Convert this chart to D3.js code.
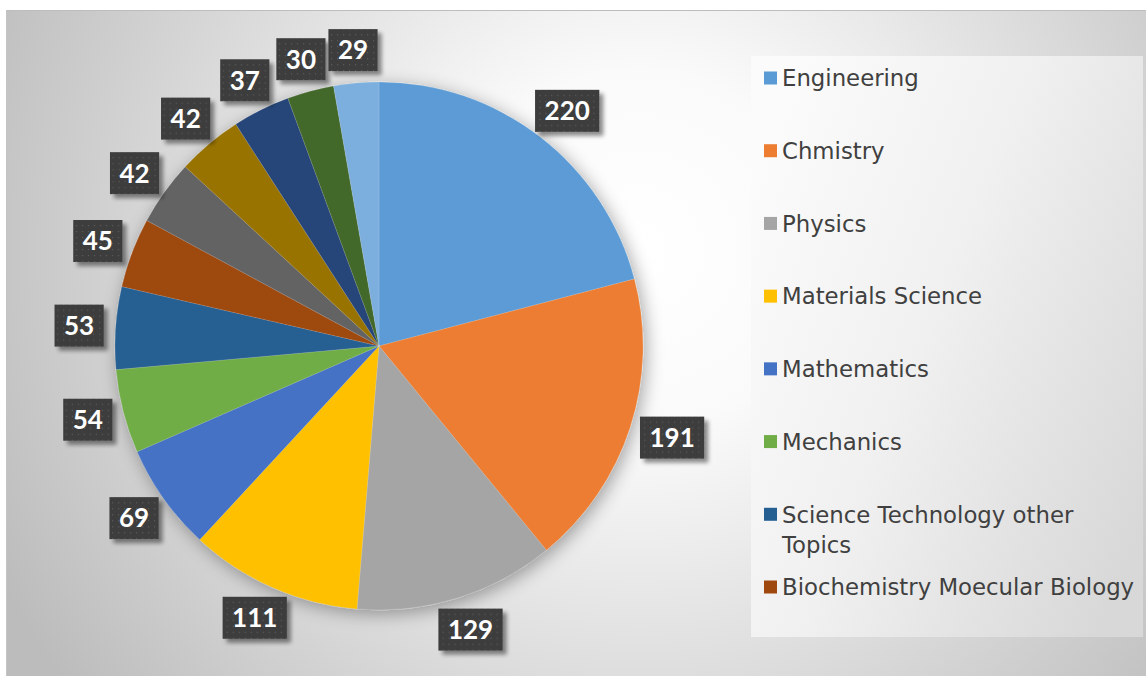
<!DOCTYPE html>
<html><head><meta charset="utf-8">
<script src="https://cdn.jsdelivr.net/npm/d3@7"></script>
<style>html,body{margin:0;padding:0;background:#fff;overflow:hidden}</style>
</head><body>
<svg id="chart" width="1146" height="677"></svg>
<script>
// ---- data ----
const categories = ["Engineering","Chmistry","Physics","Materials Science","Mathematics","Mechanics",
  "Science Technology other Topics","Biochemistry Moecular Biology","Category 9","Category 10","Category 11","Category 12","Category 13"];
const values = [220,191,129,111,69,54,53,45,42,42,37,30,29];
const colors = ["#5B9BD5","#ED7D31","#A5A5A5","#FFC000","#4472C4","#70AD47","#255E91","#9E480E","#636363","#997300","#264478","#43682B","#7CAFDD"];
const legendLines = [["Engineering"],["Chmistry"],["Physics"],["Materials Science"],["Mathematics"],["Mechanics"],
  ["Science Technology other","Topics"],["Biochemistry Moecular Biology"]];

const svg = d3.select("#chart");
const defs = svg.append("defs");
const legendFont = "'Century Gothic', 'DejaVu Sans', sans-serif";
const labelFont = "'Century Gothic', Lato, 'Open Sans', sans-serif";

// backgrounds
const rg = defs.append("radialGradient").attr("id","bg").attr("gradientUnits","userSpaceOnUse")
  .attr("cx",640).attr("cy",250).attr("r",720);
rg.append("stop").attr("offset","0").attr("stop-color","#ffffff");
rg.append("stop").attr("offset","0.25").attr("stop-color","#fafafa");
rg.append("stop").attr("offset","1").attr("stop-color","#bcbcbc");
const lg = defs.append("linearGradient").attr("id","leg").attr("x1","0").attr("y1","0.2").attr("x2","1").attr("y2","0.8");
lg.append("stop").attr("offset","0").attr("stop-color","#fbfbfb");
lg.append("stop").attr("offset","0.45").attr("stop-color","#f0f0f0");
lg.append("stop").attr("offset","1").attr("stop-color","#d8d8d8");

const sh = defs.append("filter").attr("id","pieShadow").attr("x","-20%").attr("y","-20%").attr("width","140%").attr("height","140%");
sh.append("feGaussianBlur").attr("in","SourceAlpha").attr("stdDeviation",9).attr("result","b");
sh.append("feOffset").attr("in","b").attr("dx",3).attr("dy",4).attr("result","o");
sh.append("feComponentTransfer").attr("in","o").attr("result","o2").append("feFuncA").attr("type","linear").attr("slope",0.35);
const m1 = sh.append("feMerge"); m1.append("feMergeNode").attr("in","o2"); m1.append("feMergeNode").attr("in","SourceGraphic");

const ls = defs.append("filter").attr("id","lblShadow").attr("x","-30%").attr("y","-30%").attr("width","170%").attr("height","170%");
ls.append("feGaussianBlur").attr("in","SourceAlpha").attr("stdDeviation",2.2).attr("result","b");
ls.append("feOffset").attr("in","b").attr("dx",4).attr("dy",4).attr("result","o");
ls.append("feComponentTransfer").attr("in","o").attr("result","o2").append("feFuncA").attr("type","linear").attr("slope",0.45);
const m2 = ls.append("feMerge"); m2.append("feMergeNode").attr("in","o2"); m2.append("feMergeNode").attr("in","SourceGraphic");

const pat = defs.append("pattern").attr("id","dots").attr("patternUnits","userSpaceOnUse").attr("width",6).attr("height",6);
pat.append("rect").attr("width",6).attr("height",6).attr("fill","#3d3d3d");
pat.append("rect").attr("x",2).attr("y",2).attr("width",1.2).attr("height",1.2).attr("fill","#5c5c5c");

svg.append("rect").attr("x",6).attr("y",10).attr("width",1140).attr("height",666).attr("fill","url(#bg)");
svg.append("line").attr("x1",6).attr("x2",1146).attr("y1",10.5).attr("y2",10.5).attr("stroke","#bdbdbd");
svg.append("line").attr("x1",6.5).attr("x2",6.5).attr("y1",10).attr("y2",676).attr("stroke","#c4c4c4");

// legend panel
svg.append("rect").attr("x",751).attr("y",56).attr("width",392).attr("height",581).attr("fill","url(#leg)");

// pie
const cx = 379, cy = 346, R = 264, gap = 12, boxH = 42, pad = 9.5;
const pie = d3.pie().sort(null).value(d => d);
const arcs = pie(values);
const arc = d3.arc().innerRadius(0).outerRadius(R);
const g = svg.append("g").attr("transform",`translate(${cx},${cy})`);
g.append("g").attr("filter","url(#pieShadow)").selectAll("path").data(arcs).join("path")
  .attr("d",arc).attr("fill",(d,i)=>colors[i]).attr("stroke","#ffffff").attr("stroke-opacity",0.25).attr("stroke-width",0.5);

// labels (outside end)
const lbl = g.append("g").selectAll("g").data(arcs).join("g");
lbl.append("rect").attr("fill","url(#dots)").attr("filter","url(#lblShadow)");
lbl.append("text").attr("text-anchor","middle").attr("dy","0.36em")
  .attr("fill","#ffffff").attr("font-family",labelFont).attr("font-weight","bold").attr("font-size",26)
  .text(d => d.value);
lbl.each(function(d){
  const sel = d3.select(this);
  const tw = sel.select("text").node().getComputedTextLength();
  const w = tw + 2*pad;
  const a = (d.startAngle + d.endAngle)/2;
  const ux = Math.sin(a), uy = -Math.cos(a);
  const x = ux*(R+gap) + ux*w/2, y = uy*(R+gap) + uy*boxH/2;
  sel.attr("transform",`translate(${x},${y})`);
  sel.select("rect").attr("x",-w/2).attr("y",-boxH/2).attr("width",w).attr("height",boxH);
});

// legend
const ly = d3.scalePoint().domain(d3.range(legendLines.length)).range([78,587]);
const leg = svg.append("g").selectAll("g").data(legendLines).join("g")
  .attr("transform",(d,i)=>`translate(764,${ly(i)})`);
leg.append("rect").attr("x",0).attr("y",-6.5).attr("width",13).attr("height",13).attr("fill",(d,i)=>colors[i]);
leg.each(function(lines){
  const t = d3.select(this).append("text").attr("font-family",legendFont).attr("font-size",22.8).attr("fill","#404040");
  lines.forEach((l,k)=> t.append("tspan").attr("x",18).attr("y",k*31).attr("dy","0.36em").text(l));
});
</script>
</body></html>
